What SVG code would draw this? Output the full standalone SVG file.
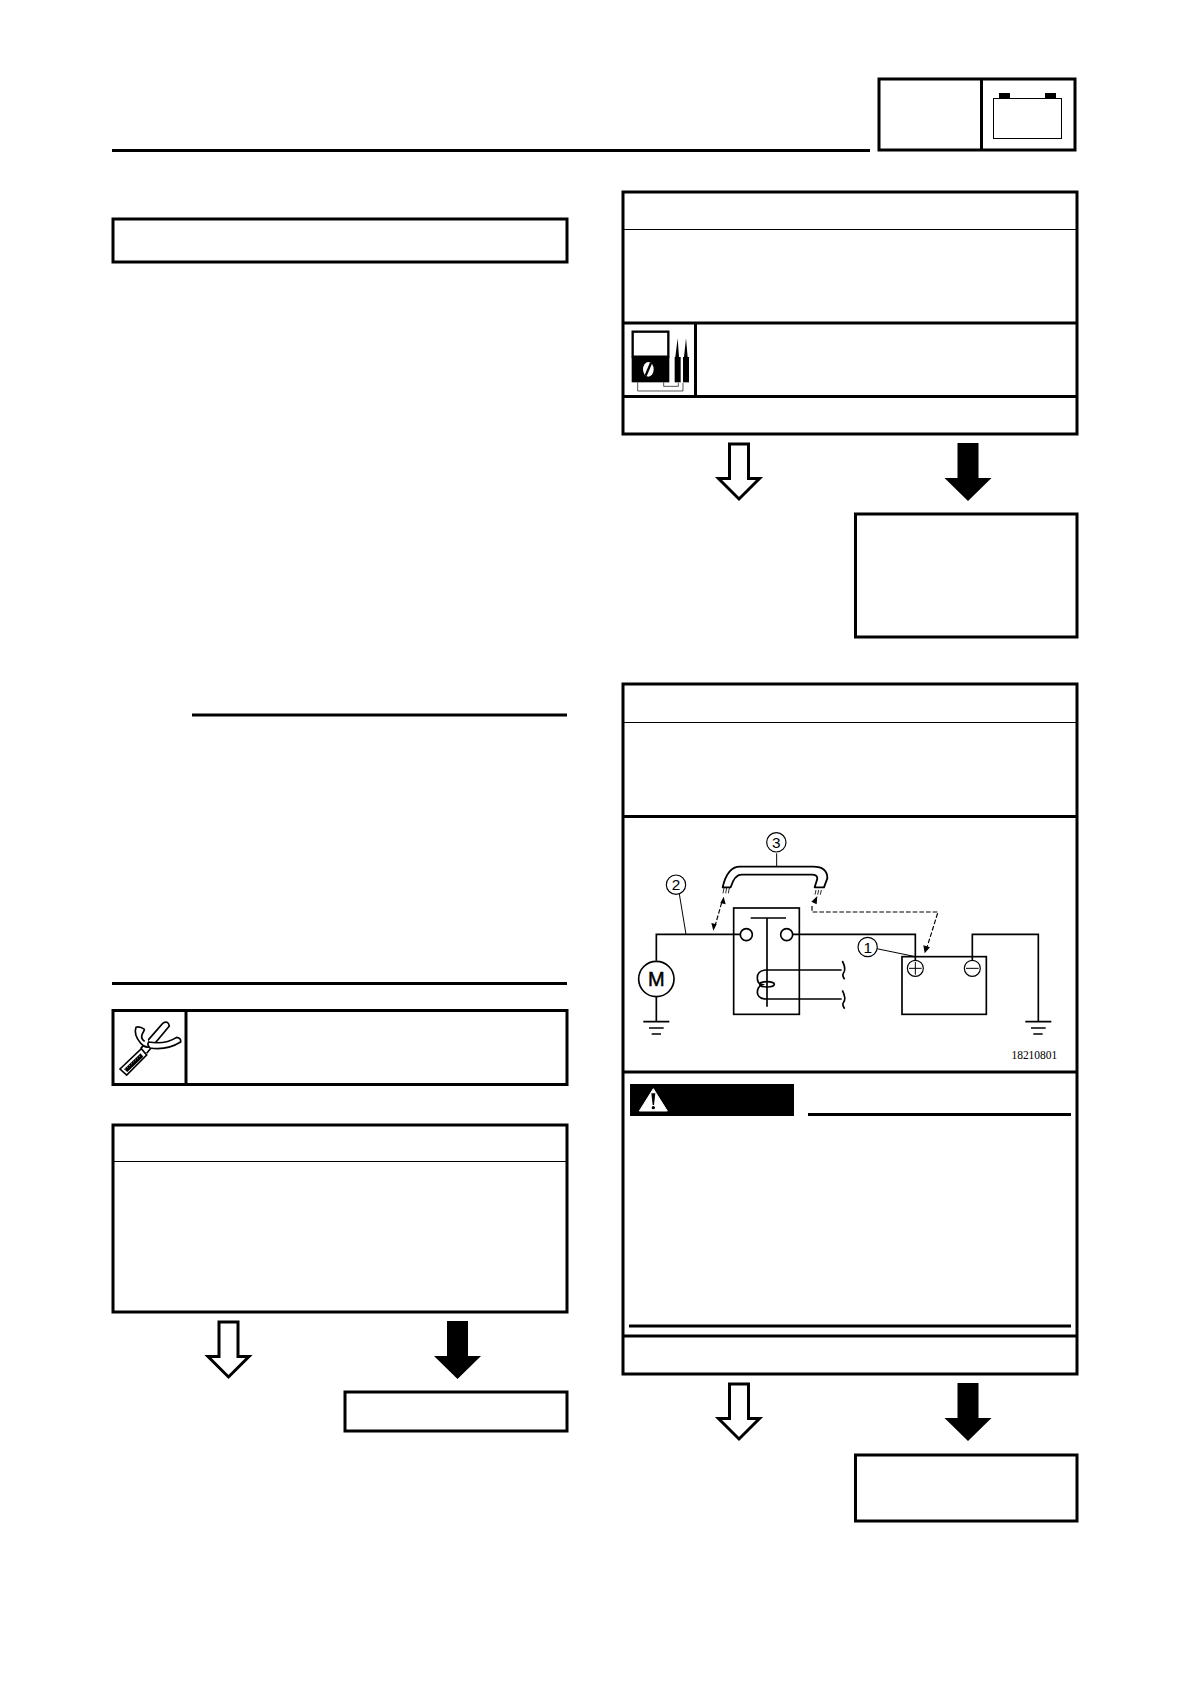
<svg xmlns="http://www.w3.org/2000/svg" width="1190" height="1684" viewBox="0 0 1190 1684">
<style>
.b{fill:#fff;stroke:#000;stroke-width:3}
.r{stroke:#000;stroke-width:3;fill:none}
.t{stroke:#000;stroke-width:1;fill:none}
.k{fill:#000;stroke:none}
.d{fill:none;stroke:#000;stroke-width:5}
.s{fill:#fff;stroke:#000;stroke-width:5}
.c{fill:#fff;stroke:#000;stroke-width:3.500}
.e{fill:none;stroke:#000;stroke-width:3}
.x{fill:none;stroke:#000;stroke-width:3.500;stroke-dasharray:14 6}
.f{font-family:"Liberation Sans",Arial,sans-serif;fill:#000}
.m{font-family:"Liberation Serif","Times New Roman",serif;fill:#000}
.h{fill:#fff;stroke:#000;stroke-width:3}
</style>
<defs>
<path id="ha" d="M-9.500 0H9.500V34.500H20.500L0 55L-20.500 34.500H-9.500Z"/>
<path id="ba" d="M-10.500 0H10.500V35H23.500L0 58L-23.500 35H-10.500Z"/>
</defs>
<rect width="1190" height="1684" fill="#fff"/>
<g id="header">
<path class="r" d="M112 150.500H870"/>
<rect class="b" x="879" y="79" width="196" height="71"/>
<path class="r" d="M981.500 79V150"/>
<rect class="t" x="993.500" y="98.500" width="68" height="40"/>
<rect class="k" x="999" y="93" width="11" height="5"/>
<rect class="k" x="1045" y="93" width="11" height="5"/>
</g>
<g id="title-box"><rect class="b" x="113" y="219" width="454" height="43"/></g>
<g id="left-rules">
<path class="r" d="M192 715H567"/>
<path class="r" d="M112 983.500H567"/>
</g>
<g id="tool-box">
<rect class="b" x="113" y="1010.500" width="454" height="74"/>
<path class="r" d="M186 1010V1084"/>
<g transform="translate(100 1000) scale(.33333)">
<path d="M122 146L188 70Q204 60 208 78L140 160" fill="#fff" stroke="#000" stroke-width="5"/>
<path d="M60 207L124 146L140 165L80 225Z" fill="#fff" stroke="#000" stroke-width="5"/>
<path d="M72 208L122 160L130 170L82 216Z" class="k"/>
<path d="M76 208L124 164" stroke="#fff" stroke-width="2" stroke-dasharray="3 5" fill="none"/>
<path d="M134 88Q118 78 108 82Q100 104 122 130Q136 146 150 140M134 88L126 104Q122 116 134 124" fill="#fff" stroke="#000" stroke-width="5"/>
<path d="M146 126Q196 134 230 112Q244 114 242 126Q200 152 150 144Q140 134 146 126Z" fill="#fff" stroke="#000" stroke-width="5"/>
</g>
</g>
<g id="left-check">
<rect class="b" x="113" y="1125" width="454" height="187"/>
<path class="t" d="M113 1161.500H567"/>
</g>
<g id="left-result"><rect class="b" x="345" y="1392" width="222" height="39"/></g>
<g id="right-check-1">
<rect class="b" x="623" y="192" width="454" height="242"/>
<path class="t" d="M623 229.500H1077"/>
<path class="r" d="M623 323H1077M623 396.500H1077M695.500 323V396"/>
<g transform="translate(615 315) scale(.33333)">
<rect x="53" y="50" width="107" height="75" fill="#fff" stroke="#000" stroke-width="7"/>
<rect class="k" x="50" y="125" width="113" height="77"/>
<ellipse cx="100" cy="163" rx="16" ry="22" fill="#fff"/>
<path d="M108 144L92 182" stroke="#000" stroke-width="7"/>
<path class="k" d="M188 70L192 126H181ZM213 70L218 126H207Z"/>
<rect class="k" x="179" y="126" width="18" height="76"/>
<rect class="k" x="204" y="126" width="18" height="76"/>
<path d="M68 202V228H204V204M146 202V214H190V204" fill="none" stroke="#000" stroke-width="2"/>
</g>
</g>
<g id="right-result-1"><rect class="b" x="855.500" y="514" width="221.500" height="123"/></g>
<g id="right-check-2">
<rect class="b" x="623" y="684" width="454" height="690"/>
<path class="t" d="M623 722.500H1077"/>
<path class="r" d="M623 816.500H1077M623 1072H1077M623 1336H1077"/>
<path class="r" d="M808 1114.500H1071M629 1326H1071"/>
<rect class="k" x="630" y="1084" width="164" height="32"/>
<g transform="translate(610 810) scale(.33333)">
<path d="M130 836L172 903H88Z" fill="#fff" stroke="#fff" stroke-width="3" stroke-linejoin="round"/>
<path class="k" d="M124 850H136L132 885H128Z"/>
<circle class="k" cx="130" cy="893" r="5"/>
</g>
</g>
<g id="wiring" transform="translate(610 810) scale(.33333)">
<rect class="d" x="371" y="294" width="197" height="319"/>
<rect class="d" x="876" y="440" width="253" height="173"/>
<path class="d" d="M139 452V373H392M548 373H916V452M1087 452V373H1285V634"/>
<path class="d" d="M139 560V634M100 635H178M117 654H161M125 672H153"/>
<path class="d" d="M1246 635H1324M1263 654H1307M1270 672H1298"/>
<path class="d" d="M422 324H528M471 324V590"/>
<circle class="s" cx="409" cy="374" r="18"/>
<circle class="s" cx="530" cy="374" r="18"/>
<circle class="s" cx="139" cy="507" r="53"/>
<text class="f" x="139" y="528" font-size="60" text-anchor="middle" stroke="#000" stroke-width="1.500">M</text>
<path class="d" d="M695 480H468Q442 482 442 503Q442 522 456 524Q442 530 442 548Q444 567 470 567H695"/>
<ellipse class="d" cx="471" cy="523" rx="22" ry="8"/>
<path class="d" d="M697 453Q710 478 700 490Q696 497 704 508M697 541Q710 566 700 578Q696 585 704 596" stroke-width="4"/>
<circle class="c" cx="916" cy="475" r="24"/>
<path class="e" d="M897 475H935M916 456V494"/>
<circle class="c" cx="1087" cy="475" r="24"/>
<path class="e" d="M1068 475H1106"/>
<path d="M338 232Q352 170 390 170H610Q652 170 652 205L642 232H614L622 206Q622 194 606 194H394Q374 194 362 232Z" fill="#fff" stroke="#000" stroke-width="5.500" stroke-linejoin="round"/>
<path d="M342 234L339 250M350 234L347 250M358 234L355 250M618 240L615 254M626 240L623 254M634 240L631 254" fill="none" stroke="#000" stroke-width="2.500"/>
<path class="e" d="M500 130V170M208 252L228 373"/>
<path class="e" d="M800 416L912 439"/>
<circle class="c" cx="499" cy="97" r="29"/>
<text class="f" x="499" y="114" font-size="46" text-anchor="middle">3</text>
<circle class="c" cx="198" cy="224" r="29"/>
<text class="f" x="198" y="241" font-size="46" text-anchor="middle">2</text>
<circle class="c" cx="773" cy="411" r="29"/>
<text class="f" x="773" y="428" font-size="46" text-anchor="middle">1</text>
<path class="x" d="M335 278L316 345"/>
<path class="k" d="M341 260L347 283L331 279ZM310 362L304 339L320 343Z"/>
<path class="x" d="M606 288V306H984L950 415"/>
<path class="k" d="M622 258L620 283L604 275ZM944 430L940 406L960 412Z"/>
<text class="m" x="1342" y="746" font-size="34.500" text-anchor="end">18210801</text>
</g>
<g id="right-result-2"><rect class="b" x="855.500" y="1455" width="221.500" height="66"/></g>
<g id="connectors">
<use href="#ha" x="739" y="444" class="h"/>
<use href="#ba" x="968" y="443" class="k"/>
<use href="#ha" x="228.500" y="1322" class="h"/>
<use href="#ba" x="457.500" y="1321" class="k"/>
<use href="#ha" x="739" y="1384" class="h"/>
<use href="#ba" x="968" y="1383" class="k"/>
</g>
</svg>
